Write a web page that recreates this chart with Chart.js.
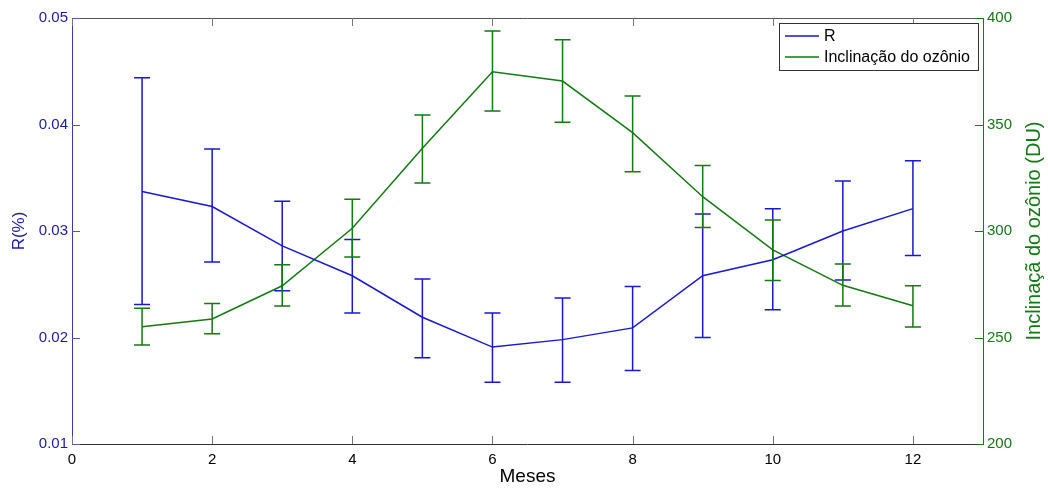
<!DOCTYPE html>
<html>
<head>
<meta charset="utf-8">
<script src="https://cdn.jsdelivr.net/npm/chart.js@4"></script>
<style>
  body { margin: 0; background: #fff; }
  #wrap { width: 1048px; height: 488px; }
</style>
</head>
<body>
<div id="wrap"><canvas id="ozoneChart" width="1048" height="488"></canvas></div>
<script>
// monthly means with error bar limits
const months = [1, 2, 3, 4, 5, 6, 7, 8, 9, 10, 11, 12];
const rMean  = [0.0337, 0.0323, 0.0286, 0.0258, 0.0219, 0.0191, 0.0198, 0.0209, 0.0258, 0.0273, 0.0300, 0.0321];
const rUpper = [0.0444, 0.0377, 0.0328, 0.0292, 0.0255, 0.0223, 0.0237, 0.0248, 0.0316, 0.0321, 0.0347, 0.0366];
const rLower = [0.0231, 0.0271, 0.0244, 0.0223, 0.0181, 0.0158, 0.0158, 0.0169, 0.0200, 0.0226, 0.0254, 0.0277];
const ozMean  = [255.1, 258.7, 274.3, 301.3, 338.8, 374.8, 370.4, 346.2, 316.1, 291.1, 274.5, 264.9];
const ozUpper = [263.7, 266.0, 284.2, 314.9, 354.5, 393.9, 389.8, 363.4, 330.7, 305.2, 284.5, 274.3];
const ozLower = [246.5, 251.8, 264.8, 287.8, 322.5, 356.3, 351.0, 327.8, 301.6, 276.8, 264.8, 254.9];
const xTicks = [0, 2, 4, 6, 8, 10, 12];
const ozTitle = 'Inclinaçã do ozônio (DU)';

const BLUE = '#1818d0';
const BLUE_TXT = '#1a1aa8';
const GREEN = '#117a11';
const FONT = '"Liberation Sans", Arial, sans-serif';

const errorBars = [
    { upper: rUpper, lower: rLower },
    { upper: ozUpper, lower: ozLower }
];

// error bars, inward tick marks, frame, right axis title and legend box
const matlabLook = {
    id: 'matlabLook',
    afterDatasetsDraw(chart) {
        const ctx = chart.ctx;
        const area = chart.chartArea;
        const xs = chart.scales.x;

        ctx.save();
        chart.data.datasets.forEach((ds, di) => {
            const ys = chart.scales[ds.yAxisID];
            const bars = errorBars[di];
            ctx.strokeStyle = ds.borderColor;
            ctx.lineWidth = 1.5;
            months.forEach((m, i) => {
                const px = xs.getPixelForValue(m);
                const top = ys.getPixelForValue(bars.upper[i]);
                const bot = ys.getPixelForValue(bars.lower[i]);
                ctx.beginPath();
                ctx.moveTo(px, top); ctx.lineTo(px, bot);
                ctx.moveTo(px - 8, top); ctx.lineTo(px + 8, top);
                ctx.moveTo(px - 8, bot); ctx.lineTo(px + 8, bot);
                ctx.stroke();
            });
        });

        // frame
        ctx.lineWidth = 1;
        ctx.strokeStyle = '#555';
        ctx.beginPath();
        ctx.moveTo(area.left, area.top + 0.5); ctx.lineTo(area.right, area.top + 0.5);
        ctx.stroke();
        ctx.strokeStyle = '#333';
        ctx.beginPath();
        ctx.moveTo(area.left, area.bottom + 0.5); ctx.lineTo(area.right, area.bottom + 0.5);
        ctx.stroke();
        ctx.strokeStyle = '#3a3aa8';
        ctx.beginPath();
        ctx.moveTo(area.left + 0.5, area.top); ctx.lineTo(area.left + 0.5, area.bottom);
        ctx.stroke();
        ctx.strokeStyle = GREEN;
        ctx.beginPath();
        ctx.moveTo(area.right + 0.5, area.top); ctx.lineTo(area.right + 0.5, area.bottom + 1);
        ctx.stroke();

        // ticks pointing into the plot
        ctx.strokeStyle = '#777';
        xTicks.forEach(v => {
            const px = Math.round(xs.getPixelForValue(v)) + 0.5;
            ctx.beginPath();
            ctx.moveTo(px, area.bottom); ctx.lineTo(px, area.bottom - 8);
            ctx.moveTo(px, area.top); ctx.lineTo(px, area.top + 8);
            ctx.stroke();
        });
        ctx.strokeStyle = '#5555aa';
        chart.scales.yR.ticks.forEach(t => {
            const py = Math.round(chart.scales.yR.getPixelForValue(t.value)) + 0.5;
            ctx.beginPath();
            ctx.moveTo(area.left, py); ctx.lineTo(area.left + 8, py);
            ctx.stroke();
        });
        ctx.strokeStyle = GREEN;
        chart.scales.yOz.ticks.forEach(t => {
            const py = Math.round(chart.scales.yOz.getPixelForValue(t.value)) + 0.5;
            ctx.beginPath();
            ctx.moveTo(area.right, py); ctx.lineTo(area.right - 8, py);
            ctx.stroke();
        });

        // right axis title reads bottom to top, like the left one
        ctx.save();
        ctx.translate(1034, (area.top + area.bottom) / 2);
        ctx.rotate(-Math.PI / 2);
        ctx.fillStyle = GREEN;
        ctx.font = '20px ' + FONT;
        ctx.textAlign = 'center';
        ctx.textBaseline = 'middle';
        ctx.fillText(ozTitle, 0, 0);
        ctx.restore();

        // legend box
        const lx = 779, ly = 23, lw = 199, lh = 47;
        ctx.fillStyle = '#fff';
        ctx.fillRect(lx, ly, lw, lh);
        ctx.strokeStyle = '#333';
        ctx.strokeRect(lx + 0.5, ly + 0.5, lw, lh);
        ctx.font = '16px ' + FONT;
        ctx.textBaseline = 'middle';
        chart.data.datasets.forEach((ds, di) => {
            const y = ly + 13 + di * 21;
            ctx.strokeStyle = ds.borderColor;
            ctx.lineWidth = 1.5;
            ctx.beginPath();
            ctx.moveTo(lx + 6, y); ctx.lineTo(lx + 40, y);
            ctx.stroke();
            ctx.fillStyle = '#000';
            ctx.fillText(ds.label, lx + 45, y + 1);
        });
        ctx.restore();
    }
};

const ctx = document.getElementById('ozoneChart').getContext('2d');

const ozoneChart = new Chart(ctx, {
    type: 'line',
    data: {
        datasets: [{
            label: 'R',
            data: months.map((m, i) => ({ x: m, y: rMean[i] })),
            borderColor: BLUE,
            borderWidth: 1.5,
            pointRadius: 0,
            tension: 0,
            yAxisID: 'yR'
        }, {
            label: 'Inclinação do ozônio',
            data: months.map((m, i) => ({ x: m, y: ozMean[i] })),
            borderColor: GREEN,
            borderWidth: 1.5,
            pointRadius: 0,
            tension: 0,
            yAxisID: 'yOz'
        }]
    },
    options: {
        responsive: false,
        animation: false,
        layout: { padding: { top: 18, left: 0, right: 0, bottom: 0 } },
        plugins: {
            legend: { display: false },
            tooltip: { enabled: false }
        },
        scales: {
            x: {
                type: 'linear',
                min: 0,
                max: 13,
                grid: { display: false, drawTicks: false },
                border: { display: false },
                afterBuildTicks: scale => { scale.ticks = xTicks.map(v => ({ value: v })); },
                afterFit: scale => { scale.height = 44; },
                ticks: {
                    padding: 7,
                    color: '#000',
                    font: { family: FONT, size: 15 },
                    maxRotation: 0
                },
                title: {
                    display: true,
                    text: 'Meses',
                    color: '#000',
                    font: { family: FONT, size: 19 },
                    padding: { top: -2, bottom: 0 }
                }
            },
            yR: {
                type: 'linear',
                position: 'left',
                min: 0.01,
                max: 0.05,
                grid: { display: false, drawTicks: false },
                border: { display: false },
                afterFit: scale => { scale.width = 72; },
                ticks: {
                    stepSize: 0.01,
                    padding: 4,
                    color: BLUE_TXT,
                    font: { family: FONT, size: 15 },
                    callback: v => v.toFixed(2)
                },
                title: {
                    display: true,
                    text: 'R(%)',
                    color: BLUE_TXT,
                    font: { family: FONT, size: 17 },
                    padding: { top: 9, bottom: 0 }
                }
            },
            yOz: {
                type: 'linear',
                position: 'right',
                min: 200,
                max: 400,
                grid: { display: false, drawTicks: false },
                border: { display: false },
                afterFit: scale => { scale.width = 65; },
                ticks: {
                    stepSize: 50,
                    padding: 4,
                    color: GREEN,
                    font: { family: FONT, size: 15 }
                }
            }
        }
    },
    plugins: [matlabLook]
});
</script>
</body>
</html>
